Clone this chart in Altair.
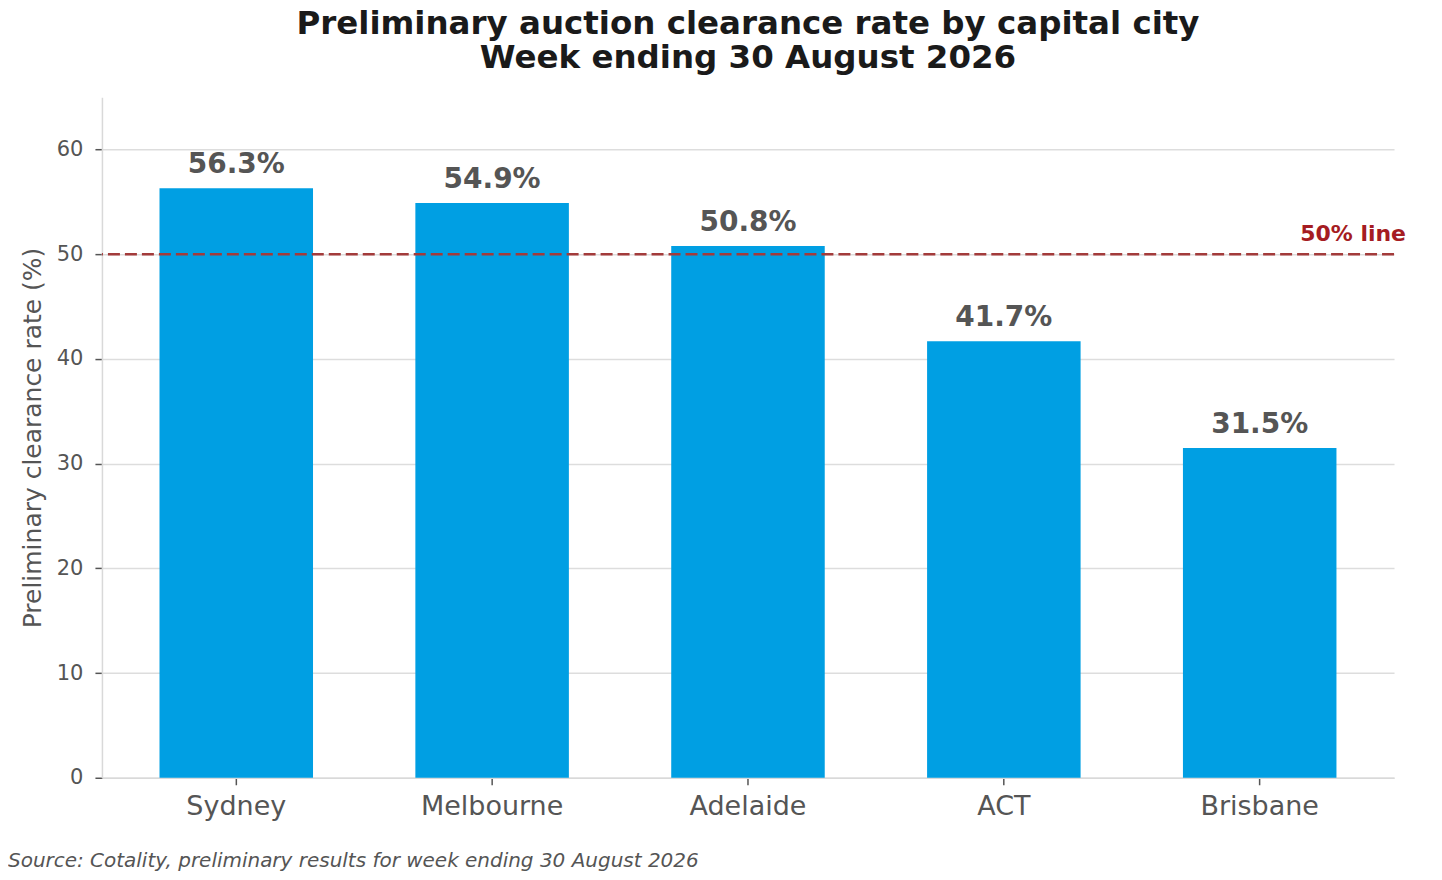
import altair as alt
import pandas as pd

cities = ["Sydney", "Melbourne", "Adelaide", "ACT", "Brisbane"]
rates = [56.3, 54.9, 50.8, 41.7, 31.5]
labels = ["56.3%", "54.9%", "50.8%", "41.7%", "31.5%"]
threshold = 50
threshold_label = "50% line"
y_ticks = [0, 10, 20, 30, 40, 50, 60]
source_text = "Source: Cotality, preliminary results for week ending 30 August 2026"

df = pd.DataFrame({"city": cities, "rate": rates, "label": labels})
ref = pd.DataFrame({"y": [threshold], "label": [threshold_label]})

FONT = "DejaVu Sans"
W, H = 1293, 681

xenc = alt.X(
    "city:N",
    sort=cities,
    title=None,
    scale=alt.Scale(paddingInner=0.4, paddingOuter=0.225),
    axis=alt.Axis(
        labelAngle=0,
        labelFontSize=27,
        labelColor="#555555",
        labelFont=FONT,
        labelPadding=9,
        tickColor="#555555",
        tickSize=7,
        tickWidth=1.5,
        domainColor="#d9d9d9",
        domainWidth=1.5,
        grid=False,
    ),
)
yenc = alt.Y(
    "rate:Q",
    title="Preliminary clearance rate (%)",
    scale=alt.Scale(domain=[0, 65], nice=False),
    axis=alt.Axis(
        values=y_ticks,
        labelFontSize=21,
        labelColor="#555555",
        labelFont=FONT,
        labelPadding=12,
        tickColor="#555555",
        tickSize=7,
        tickWidth=1.5,
        domainColor="#d9d9d9",
        domainWidth=1.5,
        gridColor="#dddddd",
        gridWidth=1.5,
        titleFontSize=25,
        titleFont=FONT,
        titleFontWeight="normal",
        titleColor="#555555",
        titlePadding=11,
    ),
)

bars = alt.Chart(df).mark_bar(color="#009fe3").encode(x=xenc, y=yenc)

values = alt.Chart(df).mark_text(
    font=FONT, fontSize=28, fontWeight="bold", color="#555555",
    baseline="alphabetic", dy=-15,
).encode(x=alt.X("city:N", sort=cities), y="rate:Q", text="label:N")

rule = alt.Chart(ref).mark_rule(
    color="#a33b3b", strokeDash=[12, 5], strokeWidth=2.4
).encode(y="y:Q")

rule_label = alt.Chart(ref).mark_text(
    font=FONT, fontSize=22, fontWeight="bold", color="#a51c22",
    align="right", baseline="alphabetic", dy=-13,
).encode(x=alt.value(W + 12), y="y:Q", text="label:N")

source = alt.Chart(pd.DataFrame({"t": [source_text]})).mark_text(
    font=FONT, fontSize=20, fontStyle="italic", color="#555555",
    align="left", baseline="alphabetic",
).encode(x=alt.value(-94), y=alt.value(H + 89), text="t:N")

chart = (
    alt.layer(bars, rule, values, rule_label, source)
    .properties(
        width=W,
        height=H,
        title=alt.Title(
            ["Preliminary auction clearance rate by capital city", "Week ending 30 August 2026"],
            font=FONT,
            fontSize=32.5,
            fontWeight="bold",
            color="#1a1a1a",
            anchor="middle",
            lineHeight=34,
            offset=23,
        ),
        autosize=alt.AutoSizeParams(type="none"),
        padding={"left": 94, "top": 89, "right": 40, "bottom": 100},
    )
    .configure_view(stroke=None)
)

chart.save("out.html", embed_options={"renderer": "svg", "actions": False})
